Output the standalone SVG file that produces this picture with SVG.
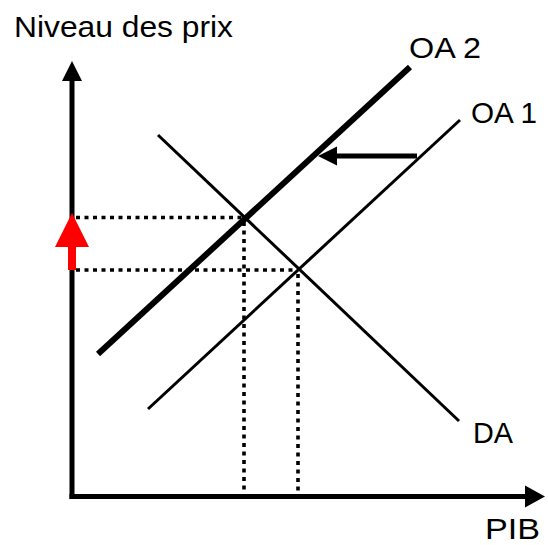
<svg xmlns="http://www.w3.org/2000/svg" width="548" height="545" viewBox="0 0 548 545">
<style>
text{font-family:"Liberation Sans",Arial,sans-serif;font-size:30px;fill:#000}
.dot{stroke:#000;stroke-width:3.6;stroke-dasharray:4 4.5;fill:none}
.ln{stroke:#000;fill:none;stroke-linecap:butt}
</style>
<rect width="548" height="545" fill="#fff"/>
<g id="guides">
<line class="dot" x1="76" y1="217.5" x2="244" y2="217.5"/>
<line class="dot" x1="76" y1="270" x2="298" y2="270"/>
<line class="dot" x1="244" y1="222" x2="244" y2="494"/>
<line class="dot" x1="298" y1="274" x2="298" y2="494"/>
</g>
<g id="axes">
<line class="ln" x1="72" y1="499" x2="72" y2="78" stroke-width="5"/>
<polygon points="72,61 62,81 82,81" fill="#000"/>
<line class="ln" x1="69.5" y1="496.5" x2="528" y2="496.5" stroke-width="5"/>
<polygon points="545,496.5 525,485.5 525,507.5" fill="#000"/>
<text x="14" y="37" textLength="219" lengthAdjust="spacingAndGlyphs">Niveau des prix</text>
<text x="485" y="539" font-size="29" textLength="55" lengthAdjust="spacingAndGlyphs">PIB</text>
</g>
<g id="OA2">
<line class="ln" x1="98" y1="354" x2="410" y2="67" stroke-width="6"/>
<text x="409" y="58" textLength="72" lengthAdjust="spacingAndGlyphs">OA 2</text>
</g>
<g id="OA1">
<line class="ln" x1="148" y1="409" x2="460" y2="120" stroke-width="3"/>
<text x="471" y="123" textLength="66" lengthAdjust="spacingAndGlyphs">OA 1</text>
</g>
<g id="DA">
<line class="ln" x1="158" y1="135" x2="459" y2="421" stroke-width="3"/>
<text x="473" y="443" textLength="40" lengthAdjust="spacingAndGlyphs">DA</text>
</g>
<g id="connectors">
<line class="ln" x1="417" y1="156" x2="333" y2="156" stroke-width="5"/>
<polygon points="318,156 337,146.5 337,165.5" fill="#000"/>
<rect x="68" y="245" width="8" height="25" fill="#f00"/>
<polygon points="72,213 55,247 89,247" fill="#f00"/>
</g>
</svg>
